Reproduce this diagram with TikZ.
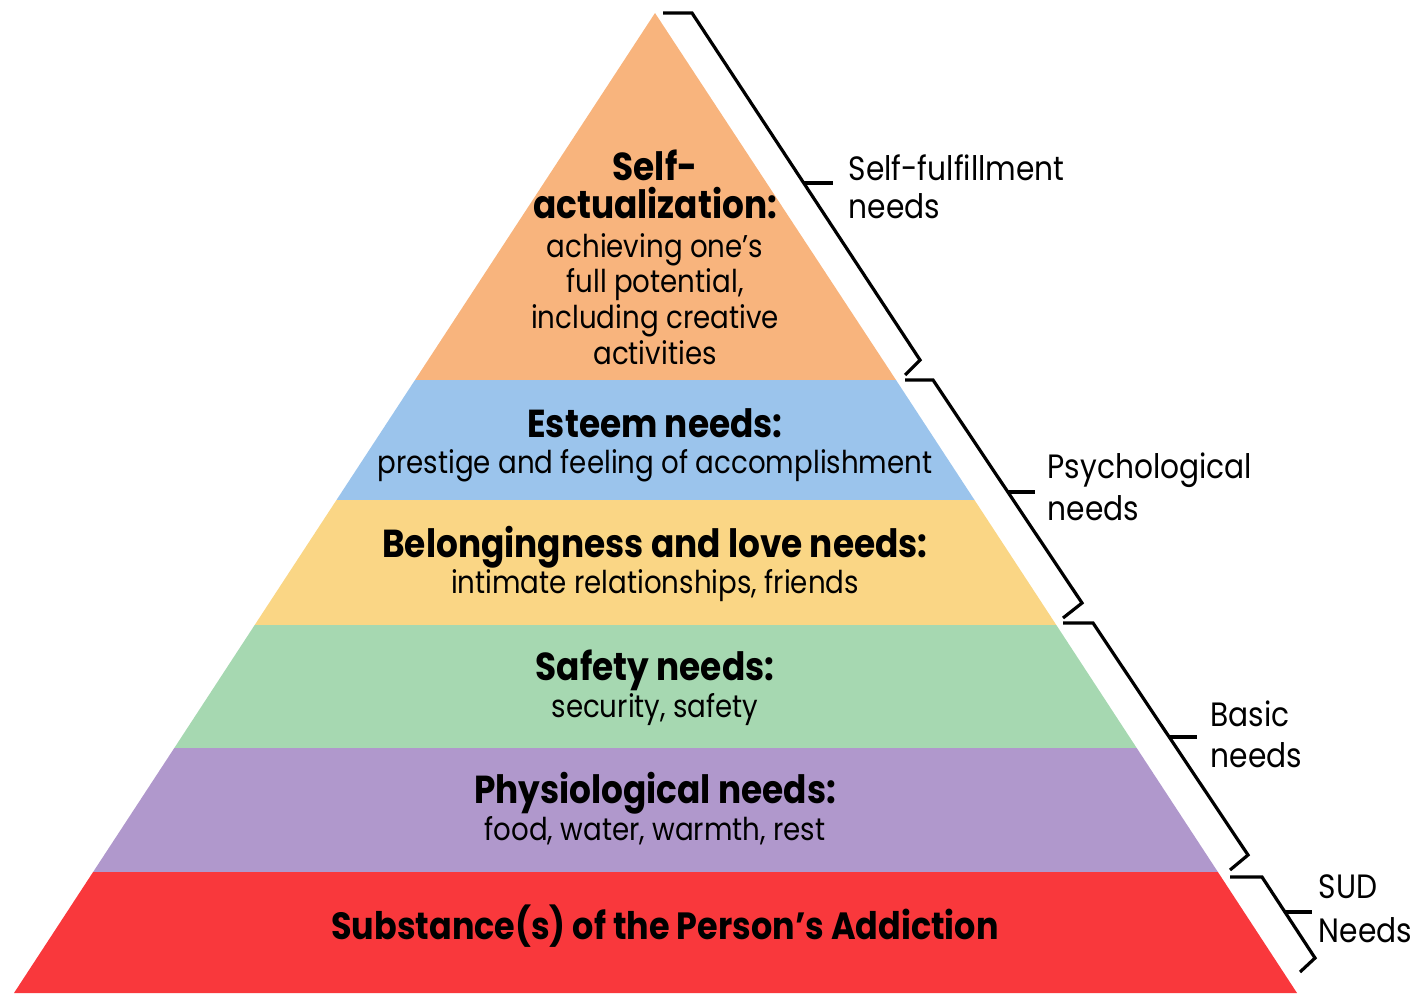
\documentclass[tikz,border=0pt]{standalone}
\usepackage{fontspec}
\setmainfont{Poppins}[FakeStretch=0.88]

\definecolor{selfcol}{RGB}{248,180,125}
\definecolor{esteemcol}{RGB}{155,196,236}
\definecolor{lovecol}{RGB}{250,214,133}
\definecolor{safecol}{RGB}{166,216,177}
\definecolor{physcol}{RGB}{176,152,204}
\definecolor{sudcol}{RGB}{249,56,60}

\tikzset{
  needbrace/.style={line width=0.032cm, line join=miter},
  headtext/.style={anchor=base, font=\bfseries\fontsize{11.1}{12}\selectfont},
  bodytext/.style={anchor=base, font=\fontsize{8.95}{10}\selectfont},
  sidetext/.style={anchor=base west, inner sep=0pt, font=\fontsize{9.6}{11}\selectfont},
}

\begin{document}
\begin{tikzpicture}
                    \useasboundingbox (0,0) rectangle (14.180000,9.950000);

                    % Drawing layer self-actualization
                    \fill [selfcol] (4.150000,6.150000) -- (6.550000,9.820000) -- (8.960000,6.150000) -- cycle;%

                    % Drawing layer esteem
                    \fill [esteemcol] (3.365000,4.950000) -- (4.150000,6.150000) -- (8.960000,6.150000) -- (9.745000,4.950000) -- cycle;%

                    % Drawing layer belongingness
                    \fill [lovecol] (2.547000,3.700000) -- (3.365000,4.950000) -- (9.745000,4.950000) -- (10.563000,3.700000) -- cycle;%

                    % Drawing layer safety
                    \fill [safecol] (1.743000,2.470000) -- (2.547000,3.700000) -- (10.563000,3.700000) -- (11.367000,2.470000) -- cycle;%

                    % Drawing layer physiological
                    \fill [physcol] (0.931000,1.230000) -- (1.743000,2.470000) -- (11.367000,2.470000) -- (12.179000,1.230000) -- cycle;%

                    % Drawing layer substance
                    \fill [sudcol] (0.140000,0.020000) -- (0.931000,1.230000) -- (12.179000,1.230000) -- (12.970000,0.020000) -- cycle;%

                    % Texts of layer self-actualization
                    \node [headtext] (selfA) at (6.550000,8.150000) {Self-};%
                    \node [headtext] (selfB) at (6.550000,7.770000) {actualization:};%
                    \node [bodytext] (selfC) at (6.550000,7.380000) {achieving one’s};%
                    \node [bodytext] (selfD) at (6.550000,7.030000) {full potential,};%
                    \node [bodytext] (selfE) at (6.550000,6.670000) {including creative};%
                    \node [bodytext] (selfF) at (6.550000,6.310000) {activities};%

                    % Texts of layer esteem
                    \node [headtext] (esteemA) at (6.550000,5.580000) {Esteem needs:};%
                    \node [bodytext] (esteemB) at (6.550000,5.220000) {prestige and feeling of accomplishment};%

                    % Texts of layer belongingness
                    \node [headtext] (loveA) at (6.550000,4.380000) {Belongingness and love needs:};%
                    \node [bodytext] (loveB) at (6.550000,4.020000) {intimate relationships, friends};%

                    % Texts of layer safety
                    \node [headtext] (safeA) at (6.550000,3.150000) {Safety needs:};%
                    \node [bodytext] (safeB) at (6.550000,2.780000) {security, safety};%

                    % Texts of layer physiological
                    \node [headtext] (physA) at (6.550000,1.920000) {Physiological needs:};%
                    \node [bodytext] (physB) at (6.550000,1.550000) {food, water, warmth, rest};%

                    % Text of layer substance
                    \node [headtext, font=\bfseries\fontsize{10.8}{12}\selectfont] (sudA) at (6.650000,0.560000) {Substance(s) of the Person’s Addiction};%

                    % Drawing brace self-fulfillment
                    \draw [needbrace] (6.630000,9.820000) -- (6.920000,9.820000) -- (9.200000,6.350000) -- (9.050000,6.200000);%
                    \draw [needbrace] (8.037000,8.120000) -- (8.330000,8.120000);%

                    % Drawing brace psychological
                    \draw [needbrace] (9.050000,6.150000) -- (9.330000,6.150000) -- (10.820000,3.920000) -- (10.630000,3.770000);%
                    \draw [needbrace] (10.078000,5.030000) -- (10.350000,5.030000);%

                    % Drawing brace basic
                    \draw [needbrace] (10.630000,3.720000) -- (10.930000,3.720000) -- (12.480000,1.400000) -- (12.300000,1.250000);%
                    \draw [needbrace] (11.685000,2.580000) -- (11.970000,2.580000);%

                    % Drawing brace SUD
                    \draw [needbrace] (12.300000,1.180000) -- (12.620000,1.180000) -- (13.150000,0.370000) -- (13.000000,0.230000);%
                    \draw [needbrace] (12.850000,0.830000) -- (13.120000,0.830000);%

                    % Labels of the braces
                    \node [sidetext] (fulfilA) at (8.480000,8.150000) {Self-fulfillment};%
                    \node [sidetext] (fulfilB) at (8.480000,7.770000) {needs};%
                    \node [sidetext] (psychA) at (10.470000,5.170000) {Psychological};%
                    \node [sidetext] (psychB) at (10.470000,4.750000) {needs};%
                    \node [sidetext] (basicA) at (12.100000,2.690000) {Basic};%
                    \node [sidetext] (basicB) at (12.100000,2.280000) {needs};%
                    \node [sidetext] (sudlabA) at (13.180000,0.970000) {SUD};%
                    \node [sidetext] (sudlabB) at (13.180000,0.530000) {Needs};%
\end{tikzpicture}
\end{document}
